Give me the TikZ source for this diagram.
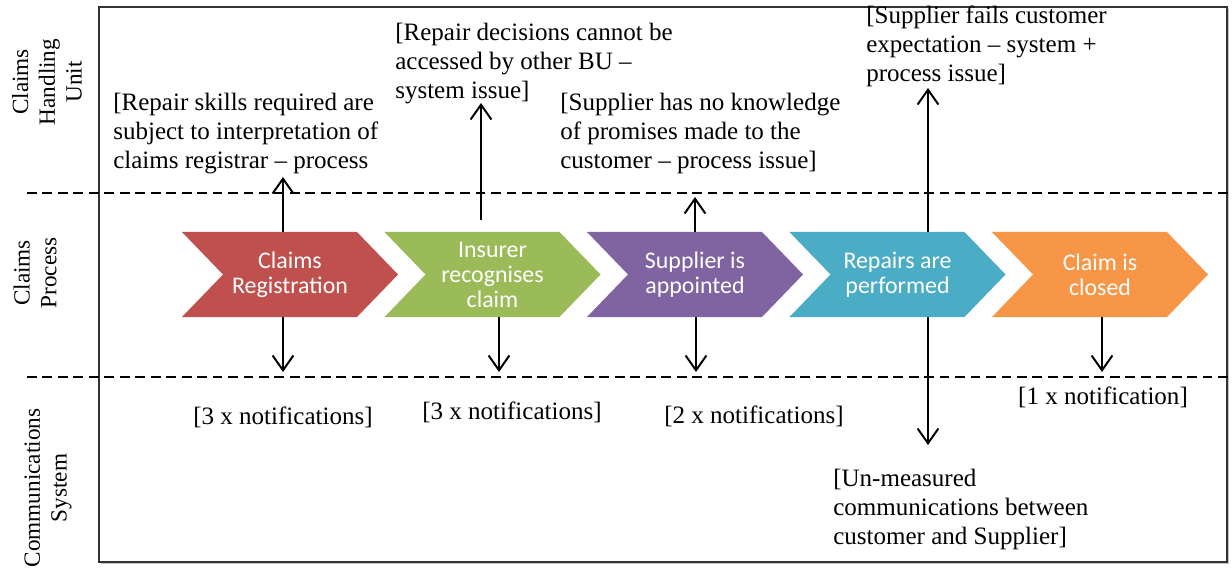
\documentclass[tikz,border=0pt]{standalone}
\usepackage{fontspec}
\setmainfont{Liberation Serif}
\newfontfamily\chevfont{Carlito}
\usetikzlibrary{arrows.meta,shapes.symbols,shadows}
\definecolor{stepred}{HTML}{C0504D}
\definecolor{stepgreen}{HTML}{9BBB59}
\definecolor{steppurple}{HTML}{8064A2}
\definecolor{stepteal}{HTML}{4BACC6}
\definecolor{steporange}{HTML}{F79646}
\begin{document}
\begin{tikzpicture}[x=0.025cm, y=-0.025cm, >={Straight Barb[length=3.7mm,width=5.2mm]},
    chev/.style={shape=signal, signal from=west, signal to=east, signal pointer angle=92,
        minimum width=5.4cm, minimum height=2.125cm, inner sep=0pt, outer sep=0pt,
        text=white, align=center, font=\chevfont\fontsize{17}{17.8}\selectfont},
    issue/.style={align=left, inner sep=0pt, anchor=north west, font=\fontsize{17.8}{20.6}\selectfont},
    tally/.style={inner sep=0pt, font=\fontsize{17.8}{20.6}\selectfont},
    lane/.style={rotate=90, align=center, inner sep=0pt, font=\fontsize{16.5}{19}\selectfont},
    link/.style={line width=1.4pt}]
\useasboundingbox (0,0) rectangle (1232,567);
\draw[line width=1.2pt, draw=black!80, fill=white, drop shadow={shadow xshift=1.5pt, shadow yshift=-1.5pt, fill=black!45}] (99,7) rectangle (1227,562);
\foreach \y in {193,377}
{
    \draw[dash pattern=on 7pt off 4pt, line width=.8pt] (27,\y)--(1232,\y);
}

% lanes
\node[lane] (lhu) at (47,82) {Claims\\Handling\\Unit};
\node[lane] (lcp) at (35,273) {Claims\\Process};
\node[lane] (lcs) at (48,488) {Communications\\System};

% issues
\node[issue] (t1) at (113,93) {[Repair skills required are\\subject to interpretation of\\claims registrar -- process};
\node[issue] (t2) at (395,23) {[Repair decisions cannot be\\accessed by other BU --\\system issue]};
\node[issue] (t3) at (560,93) {[Supplier has no knowledge\\of promises made to the\\customer -- process issue]};
\node[issue] (t4) at (866,6) {[Supplier fails customer\\expectation -- system +\\process issue]};
\node[issue] (t5) at (833,469) {[Un-measured\\communications between\\customer and Supplier]};

\node[tally] (n1) at (283,417) {[3 x notifications]};
\node[tally] (n2) at (512,412) {[3 x notifications]};
\node[tally] (n3) at (754,416) {[2 x notifications]};
\node[tally] (n4) at (1103,397) {[1 x notification]};

% process steps
\foreach \i/\c/\t in {1/stepred/{Claims\\Registration}, 2/stepgreen/{Insurer\\recognises\\claim},
    3/steppurple/{Supplier is\\appointed}, 4/stepteal/{Repairs are\\performed}, 5/steporange/{Claim is\\closed}}
{
    \node[chev, fill=\c] (c\i) at ({290+202.5*(\i-1)},274.5) {\t};
}

% arrows
\coordinate (u1) at (283,177);
\coordinate (u2) at (481,103);
\coordinate (u3) at (695,197);
\coordinate (u4) at (928,88);
\coordinate (d1) at (283,372);
\coordinate (d2) at (499,372);
\coordinate (d3) at (696,372);
\coordinate (d4) at (928,445);
\coordinate (d5) at (1102,372);

\draw[link,->] (c1.north -| u1)--(u1);
\draw[link,->,shorten <=3mm] (c2.north -| u2)--(u2);
\draw[link,->] (c3.north -| u3)--(u3);
\draw[link,->] (c4.north -| u4)--(u4);
\foreach \i in {1,...,5}
{
    \draw[link,->] (c\i.south -| d\i)--(d\i);
}

\end{tikzpicture}
\end{document}
